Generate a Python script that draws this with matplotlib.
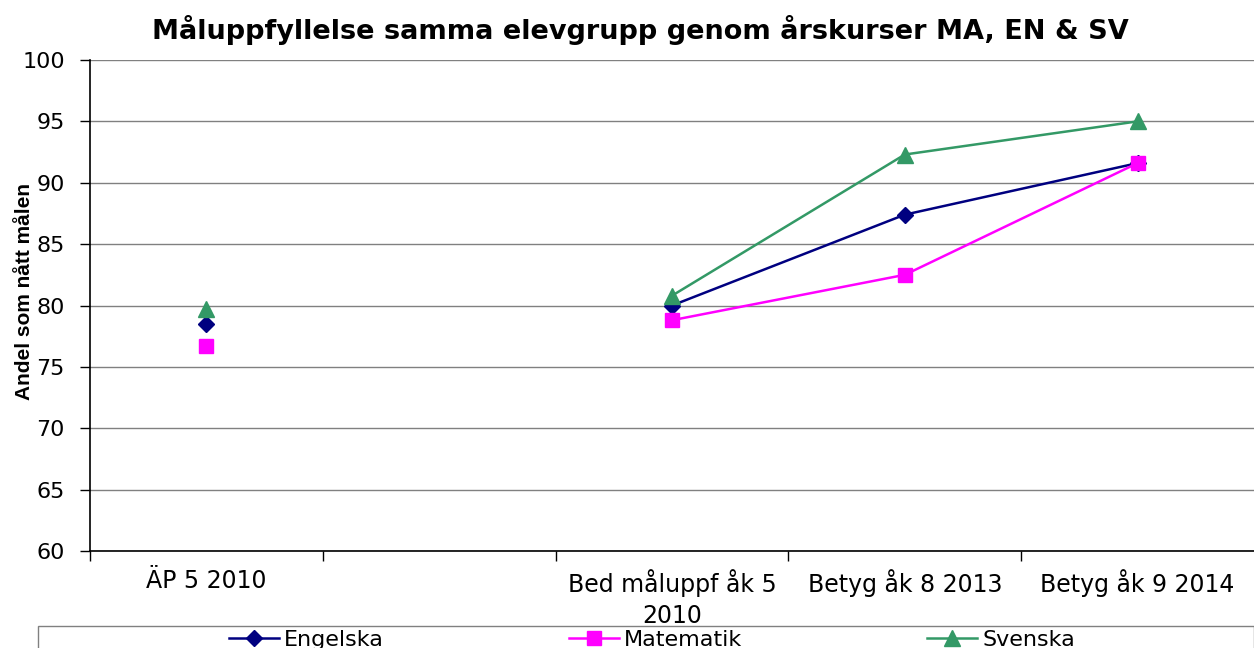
import numpy as np
import matplotlib.pyplot as plt
from matplotlib.patches import Rectangle

plt.rcParams['font.family'] = ['DejaVu Sans']

# Data
categories = ["ÄP 5 2010", "", "Bed måluppf åk 5\n2010", "Betyg åk 8 2013", "Betyg åk 9 2014"]
engelska = [78.5, np.nan, 80.0, 87.4, 91.6]
matematik = [76.7, np.nan, 78.8, 82.5, 91.6]
svenska = [79.7, np.nan, 80.8, 92.3, 95.0]
y_ticks = [60, 65, 70, 75, 80, 85, 90, 95, 100]

fig = plt.figure(figsize=(12.54, 6.48), dpi=100)
ax = fig.add_axes([90/1254, 1 - 551/648, 1 - 90/1254, (551 - 60)/648])

x = np.arange(len(categories))
ax.plot(x, engelska, color="#000080", marker="D", markersize=8, linewidth=1.8, label="Engelska")
ax.plot(x, matematik, color="#FF00FF", marker="s", markersize=10, linewidth=1.8, label="Matematik")
ax.plot(x, svenska, color="#339966", marker="^", markersize=11, linewidth=1.8, label="Svenska")

ax.set_xlim(-0.5, len(categories) - 0.5)
ax.set_ylim(60, 100)
ax.set_yticks(y_ticks)
ax.tick_params(axis="y", labelsize=16, direction="out", length=7, width=1, pad=11)

# category labels centred, tick marks between categories
ax.set_xticks(x)
ax.set_xticklabels(categories, fontsize=17, linespacing=1.35)
ax.tick_params(axis="x", which="major", length=0, pad=13)
ax.set_xticks(np.arange(len(categories)) - 0.5, minor=True)
ax.tick_params(axis="x", which="minor", length=7, width=1, direction="out")

ax.grid(axis="y", color="#808080", linewidth=1)
ax.set_axisbelow(True)
for side in ["top", "right"]:
    ax.spines[side].set_visible(False)
ax.spines["left"].set_linewidth(1.2)
ax.spines["bottom"].set_linewidth(1.2)

fig.text(640/1254, 1 - 30/648, "Måluppfyllelse samma elevgrupp genom årskurser MA, EN & SV",
         ha="center", va="center", fontsize=19.5, fontweight="bold")
fig.text(25/1254, 1 - 291/648, "Andel som nått målen", rotation=90,
         ha="center", va="center", fontsize=15, fontweight="bold",
         family="Liberation Sans")

# legend box, cut by the bottom edge of the picture
fig.patches.append(Rectangle((38/1254, -0.05), 1 - 38/1254, 0.05 + 22/648,
                             transform=fig.transFigure, fill=False,
                             edgecolor="#808080", linewidth=1))
fs_px = 16 * 100 / 72
fig.legend(loc="center", bbox_to_anchor=(652/1254, 1 - 640/648),
           ncol=3, fontsize=16, frameon=False, handlelength=50/fs_px,
           handletextpad=5/fs_px, columnspacing=185/fs_px, borderpad=0)

fig.savefig("out.png", dpi=100)
